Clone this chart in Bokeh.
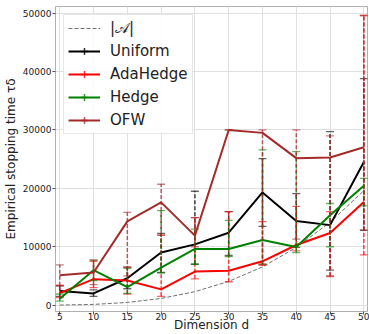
from bokeh.plotting import figure
from bokeh.models import FixedTicker, Legend, LegendItem
from bokeh.embed import file_html
from bokeh.resources import INLINE

# Dimensions d
dims = [5, 10, 15, 20, 25, 30, 35, 40, 45, 50]
# Size of the action set |A|
action_count = [10, 120, 455, 1140, 2300, 4060, 6545, 9880, 14190, 19600]

uniform_mean = [2400, 2000, 4600, 9000, 10400, 12400, 19300, 14400, 13700, 24500]
uniform_lo = [1500, 1500, 2800, 5600, 7000, 8500, 13500, 9900, 6000, 12800]
uniform_hi = [3300, 2600, 6500, 12300, 19500, 16000, 25100, 19100, 29700, 38800]

ada_mean = [2050, 4450, 4200, 2700, 5750, 5900, 7500, 10300, 12350, 17650]
ada_lo = [1300, 3000, 1900, 1500, 4500, 4000, 6800, 9300, 4900, 8600]
ada_hi = [3400, 7500, 6500, 12000, 15000, 16000, 14300, 16900, 16000, 49600]

hedge_mean = [1080, 5980, 3080, 6430, 9620, 9620, 11160, 9970, 15380, 20440]
hedge_lo = [700, 4200, 2000, 5500, 7000, 8300, 7000, 9000, 10000, 17000]
hedge_hi = [1900, 7700, 6300, 16200, 13000, 14500, 26600, 26300, 17400, 21700]

ofw_mean = [5130, 5580, 14350, 17600, 11900, 30000, 29500, 25170, 25290, 27050]
ofw_lo = [3300, 3500, 5000, 12000, 10000, 30000, 7000, 11300, 5000, 12900]
ofw_hi = [6900, 7700, 15900, 20700, 15000, 30000, 30000, 30000, 29000, 49600]

x_ticks = [5, 10, 15, 20, 25, 30, 35, 40, 45, 50]
y_ticks = [0, 10000, 20000, 30000, 40000, 50000]

FONT = "DejaVu Sans"

p = figure(width=369, height=334, x_range=(4.37, 50.54), y_range=(-1094, 51145),
           output_backend="svg", toolbar_location=None,
           min_border_left=52, min_border_right=2, min_border_top=6, min_border_bottom=22)
p.background_fill_color = "white"
p.border_fill_color = "white"
p.outline_line_color = "#b0b0b0"
p.outline_line_width = 1

p.xaxis.ticker = FixedTicker(ticks=x_ticks)
p.yaxis.ticker = FixedTicker(ticks=y_ticks)
for ax in (p.xaxis, p.yaxis):
    ax.axis_line_color = None
    ax.major_tick_line_color = "#555555"
    ax.major_tick_out = 3
    ax.major_tick_in = 0
    ax.minor_tick_line_color = None
    ax.major_label_text_font = FONT
    ax.major_label_text_font_size = "9px"
    ax.major_label_text_color = "#222222"
    ax.axis_label_text_font = FONT
    ax.axis_label_text_font_size = "12px"
    ax.axis_label_text_font_style = "normal"
    ax.axis_label_text_color = "#222222"

p.yaxis.major_label_standoff = 1
p.yaxis.axis_label = "Empirical stopping time τδ"
p.yaxis.axis_label_standoff = 2

p.xaxis.major_label_standoff = -2
p.xaxis.axis_label = "Dimension d"
p.xaxis.axis_label_standoff = -5

p.xgrid.grid_line_color = "#e0e0e0"
p.ygrid.grid_line_color = "#e0e0e0"
p.xgrid.ticker = FixedTicker(ticks=x_ticks)
p.ygrid.ticker = FixedTicker(ticks=y_ticks)

items = []

r_a = p.line(dims, action_count, line_color="#707070", line_width=1, line_dash="4 2")
items.append(LegendItem(label="|𝒜|", renderers=[r_a]))

series = [
    ("Uniform", "black", uniform_mean, uniform_lo, uniform_hi),
    ("AdaHedge", "#ff0000", ada_mean, ada_lo, ada_hi),
    ("Hedge", "#008000", hedge_mean, hedge_lo, hedge_hi),
    ("OFW", "#a52a2a", ofw_mean, ofw_lo, ofw_hi),
]

for name, color, mean, lo, hi in series:
    p.segment(x0=dims, y0=lo, x1=dims, y1=hi, line_color=color,
              line_width=1.5, line_dash="4 2", line_alpha=0.75)
    p.scatter(dims, hi, marker="dash", size=8, line_color=color,
              line_width=1.3, line_alpha=0.6)
    p.scatter(dims, lo, marker="dash", size=8, line_color=color,
              line_width=1.3, line_alpha=0.6)
    ln = p.line(dims, mean, line_color=color, line_width=2)
    # legend-only error-bar tick (no drawable point in the plot)
    tick = p.scatter([float("nan")], [float("nan")], marker="cross", size=8,
                     line_color=color, line_width=1.5, line_alpha=0.8)
    items.append(LegendItem(label=name, renderers=[ln, tick]))

legend = Legend(items=items, location="top_left")
legend.label_text_font = FONT
legend.label_text_font_size = "15px"
legend.label_text_color = "#222222"
legend.glyph_width = 32
legend.glyph_height = 18
legend.label_height = 18
legend.label_standoff = 10
legend.spacing = 5
legend.padding = 4
legend.margin = 8
legend.border_line_color = "#d0d0d0"
legend.border_line_width = 1
legend.background_fill_alpha = 0.85
p.add_layout(legend)

open("out.html", "w").write(file_html(p, INLINE))
